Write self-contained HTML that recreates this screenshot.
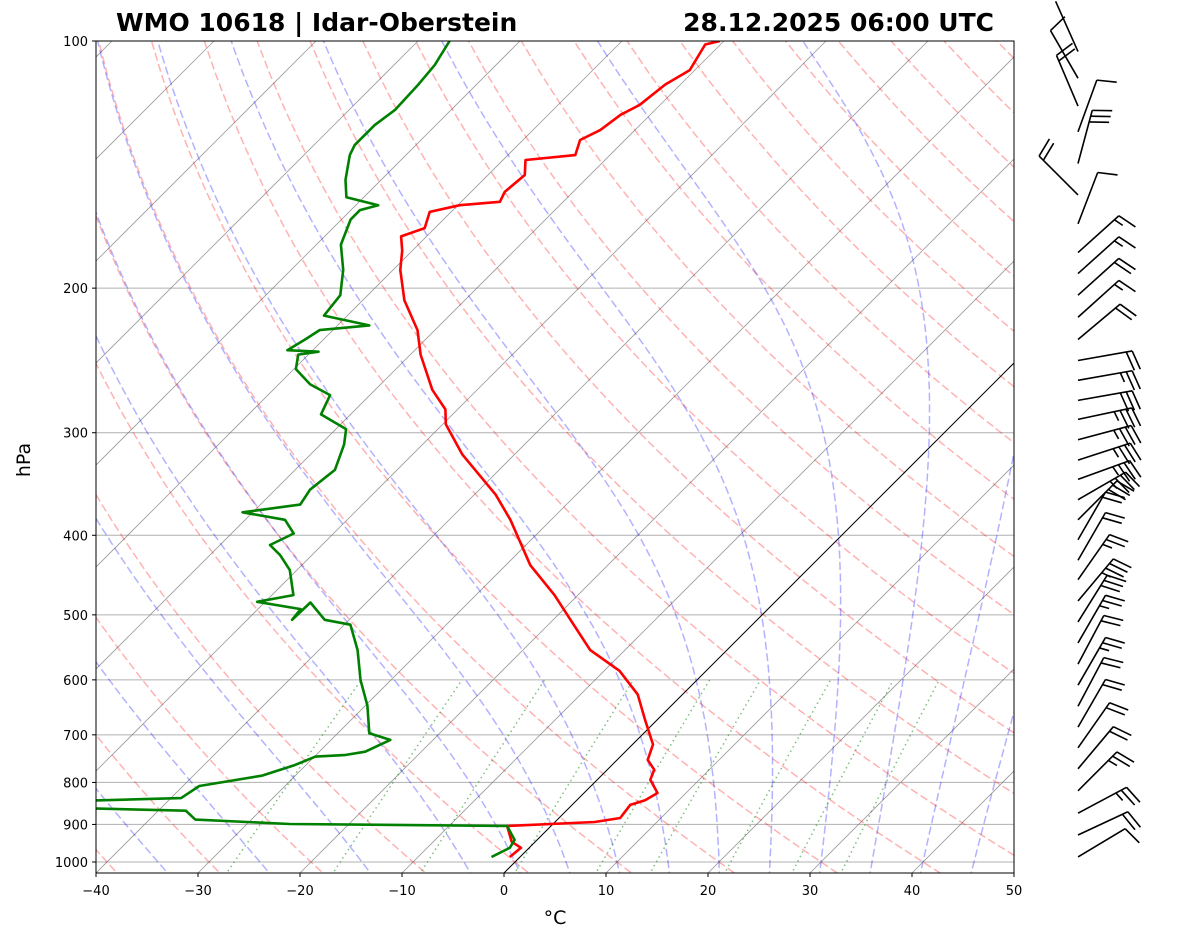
<!DOCTYPE html>
<html><head><meta charset="utf-8">
<style>
html,body{margin:0;padding:0;background:#fff;}
svg{display:block;font-family:"DejaVu Sans","Liberation Sans",sans-serif;}
</style></head>
<body>
<svg id="chart" width="1181" height="941" viewBox="0 0 1181 941" xmlns="http://www.w3.org/2000/svg">
<defs><clipPath id="plotclip"><rect x="96" y="41" width="918" height="832"/></clipPath></defs>
<rect x="0" y="0" width="1181" height="941" fill="#fff"/>
<g id="bg" clip-path="url(#plotclip)"></g>
<g id="prof" clip-path="url(#plotclip)"></g>
<rect x="96" y="41" width="918" height="832" fill="none" stroke="#000" stroke-width="1"/>
<g id="axes"></g>
<g id="barbs"></g>
<text x="116" y="31" font-size="25" font-weight="bold">WMO 10618 | Idar-Oberstein</text>
<text x="994" y="31" font-size="25" font-weight="bold" text-anchor="end">28.12.2025 06:00 UTC</text>
<text x="30" y="460" font-size="19" text-anchor="middle" transform="rotate(-90 30 460)">hPa</text>
<text x="555" y="924" font-size="19" text-anchor="middle">°C</text>
</svg>
<script>
// ---- data ----
var presT = [986,961,945,904,894,884,852,841,824,794,772,751,719,671,625,585,552,507,473,435,383,357,319,293,281,266,241,225,207,190,180,173,169,161.5,158.5,157,152.7,145.6,139.6,137.7,132,128.4,123,119.6,113,108.5,101,100];
var tempT = [-1.0,-0.8,-2.3,-4.3,3.9,6.0,5.7,6.7,7.2,5.2,4.6,3.0,2.0,-1.2,-4.4,-8.5,-13.4,-18.3,-22.3,-27.6,-34.0,-37.9,-45.1,-49.7,-51.2,-54.4,-59.0,-61.7,-65.9,-69.3,-71.0,-72.5,-71.0,-72.1,-69.8,-66.2,-66.7,-66.4,-67.8,-63.4,-64.4,-63.4,-62.9,-62.0,-61.5,-60.5,-61.5,-60.4];
var presD = [986,961,940,904,899,888,866,861,850,836,808,785,762,744,741,734,710,697,645,600,552,514,507,483,507,492,482,473,441,423,411,398,383,375,367,352,333,310,297,285,270,262,251,241,239,238,231,225,222,216,204,190,177,165,160.7,158.5,155,147.6,137.7,133.9,126.6,121.4,113,107,100];
var dewD = [-2.8,-1.9,-2.2,-4.3,-25.8,-35.5,-37.3,-46.2,-60,-39.0,-38.4,-33.3,-31.1,-29.9,-27.2,-25.5,-24.2,-26.9,-29.8,-33.0,-36.2,-39.4,-42.4,-45.5,-45.6,-45.8,-50.8,-47.9,-50.7,-53.1,-55.1,-53.9,-56.1,-61.0,-56.1,-56.6,-56.1,-57.7,-59.0,-62.9,-63.9,-66.9,-69.8,-71.0,-69.3,-72.5,-71.8,-71.3,-66.9,-72.3,-72.7,-74.9,-77.6,-79.1,-79.1,-77.8,-81.7,-83.5,-85.5,-86.0,-86.0,-85.5,-85.7,-86.0,-86.9];
var barbPres = [986,927,872,819,770,726,685,646,609,574,541,510,481,453,429,405,383,362,342,324,306,289,274,259,245,231,217,204,192,181,167,154,141,129,120,111,103];
var barbDir = [59,65,62,45,40,35,30,28,30,28,30,32,40,35,30,30,45,60,70,72,75,78,80,80,80,50,48,48,48,48,21,315,15,20,337,330,336];
var barbSpd = [10,20,25,25,20,20,20,20,25,20,25,30,35,25,20,20,30,35,35,35,35,35,30,25,20,20,15,20,15,15,10,20,30,10,20,10,3];
var pTicks = [100,200,300,400,500,600,700,800,900,1000];
var tTicks = [-40,-30,-20,-10,0,10,20,30,40,50];
var isoT = [-130,-120,-110,-100,-90,-80,-70,-60,-50,-40,-30,-20,-10,10,20,30,40,50];
var dryT0 = [-40,-30,-20,-10,0,10,20,30,40,50,60,70,80,90,100,110,120,130,140,150,160,170,180,190,200];
var moistT0 = [-35,-25,-15,-5,0,5,10,15,20,25,30,35,40,45];
var mixW = [0.0004,0.001,0.002,0.004,0.007,0.01,0.016,0.024,0.032];

// ---- scales ----
var NS = "http://www.w3.org/2000/svg";
function yP(p){ return 41 + 821*Math.log10(p/100); }
function xT(T,p){ return 96 + (T+40)*10.2 + (873 - yP(p)); }
function mk(tag, attrs, parent){ var e=document.createElementNS(NS,tag); for(var k in attrs) e.setAttribute(k,attrs[k]); parent.appendChild(e); return e; }
function pathFrom(pts){ return pts.map(function(q,i){return (i?'L':'M')+q[0].toFixed(1)+' '+q[1].toFixed(1);}).join(''); }

var bg=document.getElementById('bg'), prof=document.getElementById('prof'), axes=document.getElementById('axes'), barbs=document.getElementById('barbs');

pTicks.forEach(function(p){
  var l=mk('line',{x1:96,x2:1014,y1:yP(p),y2:yP(p),stroke:'#b0b0b0','stroke-width':1},bg);
  
  
});
isoT.forEach(function(T){
  var l=mk('line',{x1:xT(T,1050),y1:yP(1050),x2:xT(T,100),y2:yP(100),stroke:'#808080','stroke-width':0.8,'stroke-opacity':0.8},bg);
  
  
});
dryT0.forEach(function(t0){
  var pts=[]; for(var p=1050;p>=100;p-=10){ var T=(t0+273.15)*Math.pow(p/1000,0.2857)-273.15; pts.push([xT(T,p),yP(p)]); }
  var l=mk('path',{d:pathFrom(pts),fill:'none',stroke:'#ff0000','stroke-opacity':0.3,'stroke-width':1.5,'stroke-dasharray':'8,3.5'},bg);
  
  
});
function es(Tc){ return 6.112*Math.exp(17.67*Tc/(Tc+243.5)); }
function dTdp(T,p){ var Rd=287.04,Cp=1005.7,Lv=2.501e6,eps=0.622; var e=es(T-273.15); var rs=eps*e/(p-e);
  return (Rd*T+Lv*rs)/(Cp+Lv*Lv*rs*eps/(Rd*T*T))/p; }
function integ(t0,pEnd,dp){ var T=t0+273.15,p=1000,pts=[[xT(t0,1000),yP(1000)]];
  while((dp<0&&p>pEnd)||(dp>0&&p<pEnd)){ var k1=dTdp(T,p); var k2=dTdp(T+k1*dp,p+dp); T+=0.5*(k1+k2)*dp; p+=dp; pts.push([xT(T-273.15,p),yP(p)]); }
  return pts; }
moistT0.forEach(function(t0){
  var up=integ(t0,100,-5), dn=integ(t0,1050,5).reverse();
  var pts=dn.concat(up.slice(1));
  var l=mk('path',{d:pathFrom(pts),fill:'none',stroke:'#0000ff','stroke-opacity':0.3,'stroke-width':1.5,'stroke-dasharray':'8,3.5'},bg);
  
  
});
mixW.forEach(function(w){
  var pts=[]; for(var p=1050;p>=600;p-=10){ var e=w*p/(0.622+w); var a=Math.log(e/6.112); var Td=243.5*a/(17.67-a); pts.push([xT(Td,p),yP(p)]); }
  var l=mk('path',{d:pathFrom(pts),fill:'none',stroke:'#008000','stroke-opacity':0.5,'stroke-width':1.5,'stroke-dasharray':'1.5,3.5'},bg);
  
  
});
var z=mk('line',{x1:xT(0,1050),y1:yP(1050),x2:xT(0,100),y2:yP(100),stroke:'#000','stroke-width':1},bg);



var tp=mk('path',{d:pathFrom(presT.map(function(p,i){return [xT(tempT[i],p),yP(p)];})),fill:'none',stroke:'#ff0000','stroke-width':2.6,'stroke-linejoin':'round'},prof);


var dp=mk('path',{d:pathFrom(presD.map(function(p,i){return [xT(dewD[i],p),yP(p)];})),fill:'none',stroke:'#008000','stroke-width':2.6,'stroke-linejoin':'round'},prof);



pTicks.forEach(function(p){
  var y=yP(p);
  var t=mk('line',{x1:92,x2:96,y1:y,y2:y,stroke:'#000','stroke-width':1},axes);
  
  
  var tx=mk('text',{x:88,y:y+5,'font-size':13,'text-anchor':'end'},axes);
  tx.textContent=p;
  
  
});
tTicks.forEach(function(T){
  var x=96+(T+40)*10.2;
  var t=mk('line',{x1:x,x2:x,y1:873,y2:877,stroke:'#000','stroke-width':1},axes);
  
  
  var tx=mk('text',{x:x,y:895,'font-size':13,'text-anchor':'middle'},axes);
  tx.textContent=(T<0?'\u2212'+(-T):T);
  
  
});

barbPres.forEach(function(p,i){
  var b=barbDir[i]*Math.PI/180, L=55;
  var ux=Math.sin(b), uy=-Math.cos(b);
  var bx=1078, by=yP(p);
  var tx=bx+L*ux, ty=by+L*uy;
  var g=mk('g',{},barbs);
  
  
  mk('line',{x1:bx,y1:by,x2:tx,y2:ty,stroke:'#000','stroke-width':1.6},g);
  var a=76*Math.PI/180, vx=ux*Math.cos(a)-uy*Math.sin(a), vy=ux*Math.sin(a)+uy*Math.cos(a);
  var s=barbSpd[i], n50=Math.floor(s/50); s-=n50*50; var n10=Math.floor(s/10); s-=n10*10; var n5=s>=5?1:0;
  var pos=0, sp=6;
  for(var k=0;k<n50;k++){ var x0=tx-ux*pos,y0=ty-uy*pos,x1=tx-ux*(pos+8),y1=ty-uy*(pos+8);
    mk('polygon',{points:x0+','+y0+' '+(x0+vx*20)+','+(y0+vy*20)+' '+x1+','+y1,fill:'#000'},g); pos+=10; }
  for(var k=0;k<n10;k++){ var x0=tx-ux*pos,y0=ty-uy*pos;
    mk('line',{x1:x0,y1:y0,x2:x0+vx*20,y2:y0+vy*20,stroke:'#000','stroke-width':1.6},g); pos+=sp; }
  if(n5){ if(pos===0) pos=sp; var x0=tx-ux*pos,y0=ty-uy*pos;
    mk('line',{x1:x0,y1:y0,x2:x0+vx*10,y2:y0+vy*10,stroke:'#000','stroke-width':1.6},g); }
});
</script>
</body></html>
